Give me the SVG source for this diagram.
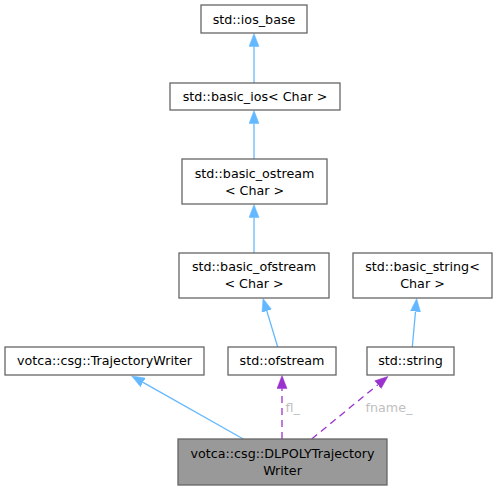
<svg xmlns="http://www.w3.org/2000/svg" width="497" height="490" viewBox="0 0 497 490">
<style>
.n rect{fill:#ffffff;stroke:#666666;stroke-width:1.3}
.n.f rect{fill:#999999}
text{font-family:"DejaVu Sans","Liberation Sans",sans-serif;font-size:12.7px;fill:#000000;text-anchor:middle}
text.l{fill:#c0c0c0;text-anchor:start}
.inh{fill:none;stroke:#63b8ff;stroke-width:1.3;marker-end:url(#ab)}
.use{fill:none;stroke:#9a32cd;stroke-width:1.3;stroke-dasharray:7,5;marker-end:url(#ap)}
</style>
<defs>
<marker id="ab" markerUnits="userSpaceOnUse" markerWidth="14" markerHeight="11" refX="0" refY="5" orient="auto" viewBox="0 0 14 10">
<path d="M0,0 L13,5 L0,10 z" fill="#63b8ff" stroke="#63b8ff" stroke-width="0.5"/>
</marker>
<marker id="ap" markerUnits="userSpaceOnUse" markerWidth="14" markerHeight="11" refX="0" refY="5" orient="auto" viewBox="0 0 14 10">
<path d="M0,0 L13,5 L0,10 z" fill="#9a32cd" stroke="#9a32cd" stroke-width="0.5"/>
</marker>
</defs>
<g id="edges">
<path class="inh" d="M254,83 L254,46.5"/>
<path class="inh" d="M254,159 L254,123.5"/>
<path class="inh" d="M254,253 L254,217.5"/>
<path class="inh" d="M277.7,347 L266.8,310.9"/>
<path class="inh" d="M412.3,347 L415.5,311.5"/>
<path class="inh" d="M243.3,439 L143,382.4"/>
<path class="use" d="M282,439 L282,388.5"/>
<text class="l" x="285.5" y="412">fl_</text>
<path class="use" d="M311.7,439 L377.9,384.7"/>
<text class="l" x="365.5" y="412">fname_</text>
</g>
<g id="node_ios_base" class="n"><rect x="201" y="5" width="106" height="28"/><text x="254" y="23.5">std::ios_base</text></g>
<g id="node_basic_ios" class="n"><rect x="170" y="83" width="170" height="27"/><text x="255" y="101">std::basic_ios&lt; Char &gt;</text></g>
<g id="node_basic_ostream" class="n"><rect x="182" y="159" width="145" height="45"/><text x="254.5" y="177.7">std::basic_ostream</text><text x="254.5" y="194.5">&lt; Char &gt;</text></g>
<g id="node_basic_ofstream" class="n"><rect x="179" y="253" width="150" height="45"/><text x="254" y="271.3">std::basic_ofstream</text><text x="254" y="288.1">&lt; Char &gt;</text></g>
<g id="node_basic_string" class="n"><rect x="353" y="253" width="139" height="45"/><text x="422.5" y="271.3">std::basic_string&lt;</text><text x="422.5" y="288.1">Char &gt;</text></g>
<g id="node_TrajectoryWriter" class="n"><rect x="5" y="347" width="199" height="28"/><text x="104.5" y="365.3">votca::csg::TrajectoryWriter</text></g>
<g id="node_ofstream" class="n"><rect x="228" y="347" width="108" height="28"/><text x="282" y="365.3">std::ofstream</text></g>
<g id="node_string" class="n"><rect x="367" y="347" width="87" height="28"/><text x="410.5" y="365.3">std::string</text></g>
<g id="node_DLPOLYTrajectoryWriter" class="n f"><rect x="178" y="439" width="209" height="46"/><text x="282.5" y="458">votca::csg::DLPOLYTrajectory</text><text x="282.5" y="474.7">Writer</text></g>
</svg>
